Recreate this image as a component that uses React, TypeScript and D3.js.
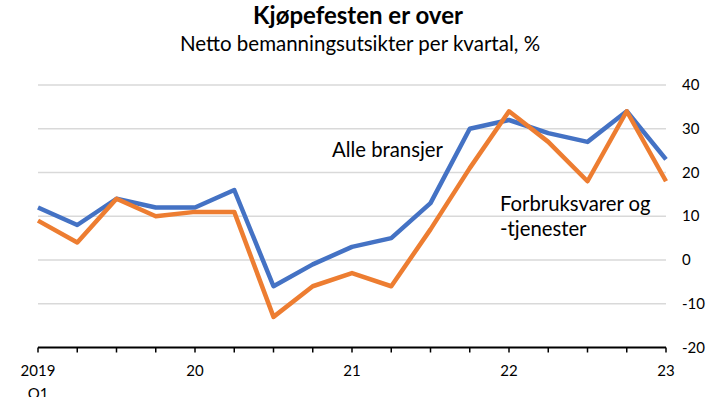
import * as d3 from 'd3'

const quarters = [
  '2019 Q1', '2019 Q2', '2019 Q3', '2019 Q4',
  '2020 Q1', '2020 Q2', '2020 Q3', '2020 Q4',
  '2021 Q1', '2021 Q2', '2021 Q3', '2021 Q4',
  '2022 Q1', '2022 Q2', '2022 Q3', '2022 Q4',
  '2023 Q1',
]
const alleBransjer = [12, 8, 14, 12, 12, 16, -6, -1, 3, 5, 13, 30, 32, 29, 27, 34, 23]
const forbruksvarer = [9, 4, 14, 10, 11, 11, -13, -6, -3, -6, 7, 21, 34, 27, 18, 34, 18]
const yTicks = [40, 30, 20, 10, 0, -10, -20]
const yearLabels: [number, string][] = [
  [0, '2019'],
  [4, '20'],
  [8, '21'],
  [12, '22'],
  [16, '23'],
]

const W = 706
const H = 397
const FONT = 'Lato, "Open Sans", sans-serif'

export default function App() {
  const x = d3.scaleLinear().domain([0, quarters.length - 1]).range([38, 666])
  const y = d3.scaleLinear().domain([-20, 40]).range([347.5, 85])

  const line = d3
    .line<number>()
    .x((_, i) => x(i))
    .y((d) => y(d))

  return (
    <svg
      width={W}
      height={H}
      style={{ position: 'absolute', left: 0, top: 0, background: '#fff' }}
      fontFamily={FONT}
    >
      {/* title */}
      <text x={358} y={24} textAnchor="middle" fontSize={24} fontWeight="bold" fill="#000">
        Kjøpefesten er over
      </text>
      <text x={360} y={51} textAnchor="middle" fontSize={20.5} fill="#000">
        Netto bemanningsutsikter per kvartal, %
      </text>

      {/* gridlines */}
      {yTicks
        .filter((t) => t > -20)
        .map((t) => (
          <line key={t} x1={x(0)} x2={x(16)} y1={y(t)} y2={y(t)} stroke="#d9d9d9" strokeWidth={1.5} />
        ))}

      {/* y labels on the right */}
      {yTicks.map((t) => (
        <text key={t} x={682} y={y(t) + 5} fontSize={15} fill="#000">
          {t}
        </text>
      ))}

      {/* x axis */}
      <line x1={x(0)} x2={x(16)} y1={y(-20)} y2={y(-20)} stroke="#000" strokeWidth={2} />
      {quarters.map((q, i) => (
        <line key={q} x1={x(i)} x2={x(i)} y1={y(-20)} y2={y(-20) + 5} stroke="#000" strokeWidth={1.5} />
      ))}
      {yearLabels.map(([i, label]) => (
        <text key={label} x={x(i)} y={376} textAnchor="middle" fontSize={15} fill="#000">
          {label}
        </text>
      ))}
      <text x={x(0)} y={399} textAnchor="middle" fontSize={15} fill="#000">
        Q1
      </text>

      {/* series */}
      <path d={line(alleBransjer) ?? ''} fill="none" stroke="#4472C4" strokeWidth={4.5} strokeLinejoin="round" />
      <path d={line(forbruksvarer) ?? ''} fill="none" stroke="#ED7D31" strokeWidth={4.5} strokeLinejoin="round" />

      {/* annotations */}
      <text x={332} y={157} fontSize={20.3} fill="#000">
        Alle bransjer
      </text>
      <text x={500} y={211} fontSize={20.3} fill="#000">
        Forbruksvarer og
      </text>
      <text x={500} y={236} fontSize={20.3} fill="#000">
        -tjenester
      </text>
    </svg>
  )
}
